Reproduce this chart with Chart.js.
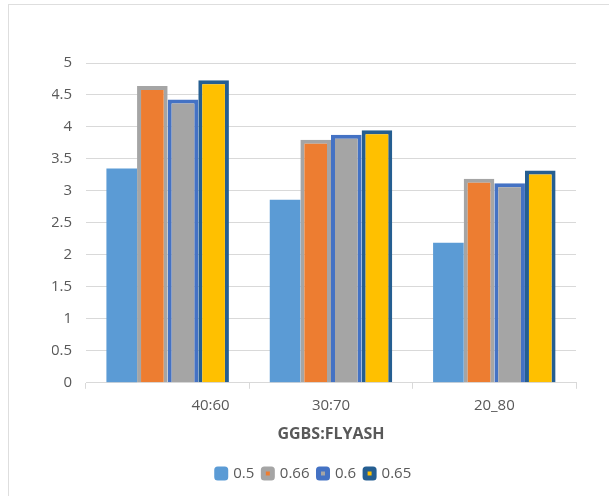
<!DOCTYPE html>
<html>
<head>
<meta charset="utf-8">
<script src="https://cdn.jsdelivr.net/npm/chart.js@4.4.1/dist/chart.umd.min.js"></script>
<style>
  html, body { margin: 0; padding: 0; background: #ffffff; overflow: hidden; }
  #frame {
    position: absolute; left: 8px; top: 4px; width: 700px; height: 600px;
    border-left: 1px solid #dedede; border-top: 1px solid #dedede;
  }
  #wrap { position: absolute; left: 0; top: 0; width: 609px; height: 496px; }
</style>
</head>
<body>
<div id="frame"></div>
<div id="wrap"><canvas id="chart" width="609" height="496"></canvas></div>
<script>
// GGBS : fly-ash blend ratios on the category axis
const categories = ['40:60', '30:70', '20_80'];
// leading blank characters carried by each category caption
const labelIndent = [22, 0, 0];

// one series per ratio shown in the legend
const seriesNames = ['0.5', '0.66', '0.6', '0.65'];
const values05  = [3.35, 2.86, 2.19];
const values066 = [4.64, 3.80, 3.19];
const values06  = [4.43, 3.88, 3.12];
const values065 = [4.73, 3.95, 3.32];

const yTicks = { min: 0, max: 5, step: 0.5 };

const fills   = ['#5B9BD5', '#ED7D31', '#A5A5A5', '#FFC000'];
const borders = ['#5B9BD5', '#A5A5A5', '#4472C4', '#255E91'];
const borderW = [0, 4, 4, 4];
const seriesValues = [values05, values066, values06, values065];

const textGray = '#595959';
const gridGray = '#d9d9d9';
const baseFont = "'Open Sans', 'Liberation Sans', sans-serif";

const datasets = seriesNames.map((name, i) => ({
  label: name,
  data: seriesValues[i],
  backgroundColor: fills[i],
  borderColor: borders[i],
  borderWidth: borderW[i],
  categoryPercentage: 0.75,
  barPercentage: 1.0
}));

new Chart(document.getElementById('chart'), {
  type: 'bar',
  data: { labels: categories, datasets },
  options: {
    responsive: false,
    animation: false,
    devicePixelRatio: 1,
    layout: { padding: { top: 63, right: 33, bottom: 5, left: 52 } },
    plugins: {
      tooltip: { enabled: false },
      legend: {
        position: 'bottom',
        labels: {
          color: textGray,
          font: { family: baseFont, size: 15 },
          boxWidth: 9,
          boxHeight: 9,
          padding: 9,
          generateLabels(chart) {
            return chart.data.datasets.map((ds, i) => ({
              text: ds.label,
              fillStyle: fills[i],
              strokeStyle: borders[i],
              lineWidth: 5,
              borderRadius: 1,
              datasetIndex: i,
              hidden: false,
              fontColor: textGray
            }));
          }
        }
      }
    },
    scales: {
      x: {
        grid: {
          display: true,
          drawOnChartArea: false,
          drawTicks: true,
          tickLength: 6,
          color: gridGray
        },
        border: { display: true, color: gridGray, width: 1 },
        ticks: {
          color: textGray,
          font: { family: baseFont, size: 15 },
          padding: 8,
          maxRotation: 0,
          callback(value, index) {
            return ' '.repeat(labelIndent[index]) + categories[index];
          }
        },
        title: {
          display: true,
          text: 'GGBS:FLYASH',
          color: textGray,
          font: { family: baseFont, size: 16, weight: 'bold' },
          padding: { top: 2, bottom: 13 }
        }
      },
      y: {
        min: yTicks.min,
        max: yTicks.max,
        grid: { color: gridGray, drawTicks: false, lineWidth: 1 },
        border: { display: false },
        ticks: {
          stepSize: yTicks.step,
          color: textGray,
          font: { family: baseFont, size: 15 },
          padding: 14,
          callback(value) { return String(Number(value)); }
        },
        afterFit(scale) { scale.width = 34; }
      }
    }
  }
});
</script>
</body>
</html>
